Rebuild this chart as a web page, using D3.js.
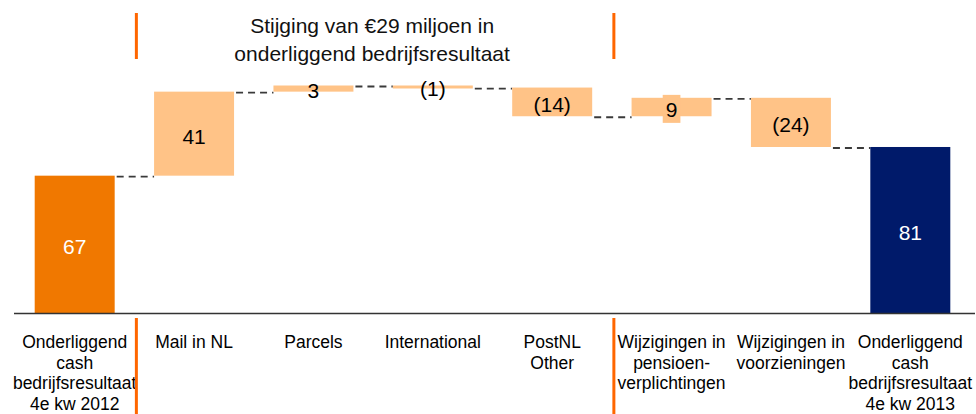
<!DOCTYPE html>
<html lang="en">

<head>
  <meta charset="UTF-8" />
  <title>Onderliggend cash bedrijfsresultaat</title>
  <script src="https://d3js.org/d3.v7.min.js"></script>
  <style>
    body {
      margin: 0;
      background: #fff;
    }

    svg text {
      font-family: "Liberation Sans", Arial, sans-serif;
    }
  </style>
</head>

<body>
  <script>
    //data
    const categories = [
      ['Onderliggend', 'cash', 'bedrijfsresultaat', '4e kw 2012'],
      ['Mail in NL'],
      ['Parcels'],
      ['International'],
      ['PostNL', 'Other'],
      ['Wijzigingen in', 'pensioen-', 'verplichtingen'],
      ['Wijzigingen in', 'voorzieningen'],
      ['Onderliggend', 'cash', 'bedrijfsresultaat', '4e kw 2013']
    ];
    const values = [67, 41, 3, -1, -14, 9, -24, 81];
    const kinds = ['start', 'delta', 'delta', 'delta', 'delta', 'delta', 'delta', 'end'];
    const valueLabels = ['67', '41', '3', '(1)', '(14)', '9', '(24)', '81'];
    const titleLines = ['Stijging van €29 miljoen in', 'onderliggend bedrijfsresultaat'];
    // separators sit before these categories
    const groupBreaks = [1, 5];

    const colors = { start: 'rgb(240,120,0)', delta: 'rgb(255,195,135)', end: 'rgb(0,26,106)' };
    const sepColor = 'rgb(255,102,0)';
    const width = 976, height = 414;

    //running totals
    let run = 0;
    const bars = values.map((v, i) => {
      let lo, hi;
      if (kinds[i] === 'delta') {
        lo = Math.min(run, run + v);
        hi = Math.max(run, run + v);
        run += v;
      } else {
        lo = 0;
        hi = v;
        run = v;
      }
      return { i, v, lo, hi, end: run, kind: kinds[i], label: valueLabels[i] };
    });

    const svg = d3.select('body').append('svg')
      .attr('width', width)
      .attr('height', height);

    const x = d3.scaleBand()
      .domain(d3.range(categories.length))
      .range([15, 970])
      .paddingInner(0.33)
      .paddingOuter(0.165);

    const y = d3.scaleLinear()
      .domain([0, 111])
      .range([313, 85.5]);

    //connectors
    svg.append('g')
      .selectAll('line')
      .data(bars.slice(0, -1))
      .join('line')
      .attr('x1', d => x(d.i) + x.bandwidth() + 2)
      .attr('x2', d => x(d.i + 1))
      .attr('y1', d => y(d.end) + 1)
      .attr('y2', d => y(d.end) + 1)
      .attr('stroke', '#3a3a3a')
      .attr('stroke-width', 1.8)
      .attr('stroke-dasharray', '7,5');

    //bars
    svg.append('g')
      .selectAll('rect')
      .data(bars)
      .join('rect')
      .attr('x', d => x(d.i))
      .attr('width', x.bandwidth())
      .attr('y', d => y(d.hi))
      .attr('height', d => Math.max(3, y(d.lo) - y(d.hi)))
      .attr('fill', d => colors[d.kind]);

    //value labels
    const labels = svg.append('g')
      .selectAll('g')
      .data(bars)
      .join('g')
      .attr('transform', d => `translate(${x(d.i) + x.bandwidth() / 2},${(y(d.lo) + y(d.hi)) / 2 + 2.5})`);

    labels.append('text')
      .attr('text-anchor', 'middle')
      .attr('dy', '0.35em')
      .style('font-size', '21px')
      .attr('fill', d => d.kind === 'delta' ? '#000' : '#fff')
      .text(d => d.label);

    // the "9" label has a box behind it in the original
    labels.filter(d => d.label === '9').each(function () {
      const g = d3.select(this);
      const bb = g.select('text').node().getBBox();
      g.insert('rect', 'text')
        .attr('x', bb.x - 3)
        .attr('y', bb.y - 3)
        .attr('width', bb.width + 6)
        .attr('height', bb.height + 5)
        .attr('fill', colors.delta);
    });

    //baseline
    svg.append('line')
      .attr('x1', 14)
      .attr('x2', width - 1)
      .attr('y1', y(0) + 0.5)
      .attr('y2', y(0) + 0.5)
      .attr('stroke', '#333')
      .attr('stroke-width', 1.5);

    //category labels
    svg.append('g')
      .selectAll('text')
      .data(categories)
      .join('text')
      .attr('text-anchor', 'middle')
      .style('font-size', '17.5px')
      .attr('fill', '#000')
      .each(function (lines, i) {
        d3.select(this).selectAll('tspan')
          .data(lines)
          .join('tspan')
          .attr('x', x(i) + x.bandwidth() / 2)
          .attr('y', (d, j) => 348 + j * 20.5)
          .text(d => d);
      });

    //group separators
    const sepX = i => x(i) - x.step() * x.paddingInner() / 2 + 2;
    groupBreaks.forEach(b => {
      svg.append('line')
        .attr('x1', sepX(b)).attr('x2', sepX(b))
        .attr('y1', 318).attr('y2', height)
        .attr('stroke', sepColor).attr('stroke-width', 3);
      svg.append('line')
        .attr('x1', sepX(b)).attr('x2', sepX(b))
        .attr('y1', 13).attr('y2', 59)
        .attr('stroke', sepColor).attr('stroke-width', 3);
    });

    //title between separators
    const titleX = (sepX(groupBreaks[0]) + sepX(groupBreaks[1])) / 2 - 3;
    svg.append('text')
      .attr('text-anchor', 'middle')
      .style('font-size', '21px')
      .attr('fill', '#111')
      .selectAll('tspan')
      .data(titleLines)
      .join('tspan')
      .attr('x', titleX)
      .attr('y', (d, i) => 33 + i * 28)
      .text(d => d);
  </script>
</body>

</html>
